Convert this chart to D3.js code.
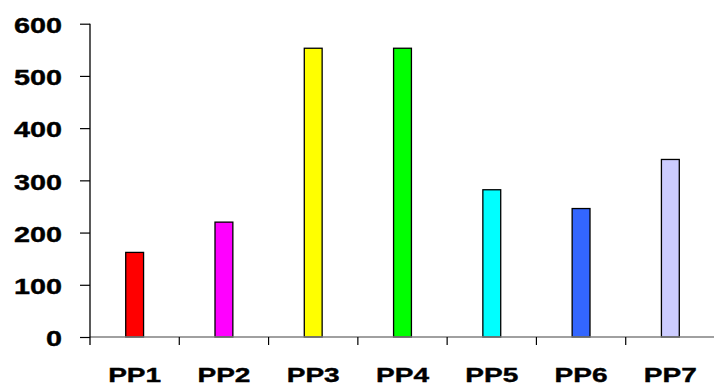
<!DOCTYPE html>
<html>
<head>
<meta charset="utf-8">
<script src="https://cdn.jsdelivr.net/npm/d3@7"></script>
<style>
html,body{margin:0;padding:0;background:#fff;}
svg{display:block;}
</style>
</head>
<body>
<svg id="chart" width="714" height="384"></svg>
<script>
const categories = ["PP1","PP2","PP3","PP4","PP5","PP6","PP7"];
const values = [162, 220, 553, 553, 282, 246, 340];
const colors = ["#FF0000","#FF00FF","#FFFF00","#00FF00","#00FFFF","#3366FF","#CCCCFF"];
const yTicks = [0,100,200,300,400,500,600];

(function(){
const svg = d3.select("#chart");
const mLeft = 90, mRight = 715, mTop = 23.7, mBottom = 337;
const font = "'Liberation Sans', Arial, sans-serif";

const x = d3.scaleBand().domain(categories).range([mLeft, mRight]).padding(0);
const y = d3.scaleLinear().domain([0, 600]).range([mBottom, mTop]);

const barW = x.bandwidth() * 0.2;

// bars
svg.append("g").selectAll("rect")
  .data(categories)
  .join("rect")
  .attr("x", (d) => x(d) + x.bandwidth()/2 - barW/2)
  .attr("y", (d,i) => y(values[i]))
  .attr("width", barW)
  .attr("height", (d,i) => y(0) - y(values[i]))
  .attr("fill", (d,i) => colors[i])
  .attr("stroke", "#000")
  .attr("stroke-width", 1.3);

// x axis (labels)
const xAxis = svg.append("g")
  .attr("transform", `translate(0,${mBottom})`)
  .call(d3.axisBottom(x).tickSize(0).tickPadding(0));
xAxis.attr("font-family", font).attr("font-size", 21);
xAxis.select(".domain").remove();
xAxis.selectAll("text")
  .attr("y", 44.5).attr("dy", null)
  .attr("text-anchor", "middle")
  .attr("font-weight", "bold")
  .attr("textLength", 53)
  .attr("lengthAdjust", "spacingAndGlyphs")
  .attr("fill", "#000")
  .attr("stroke", "#000").attr("stroke-width", 0.4);

// x axis line
svg.append("line")
  .attr("x1", mLeft).attr("x2", 714)
  .attr("y1", mBottom).attr("y2", mBottom)
  .attr("stroke", "#808080").attr("stroke-width", 1.3);

// x boundary ticks
svg.append("g").selectAll("line")
  .data(categories)
  .join("line")
  .attr("x1", (d) => x(d) + x.step())
  .attr("x2", (d) => x(d) + x.step())
  .attr("y1", mBottom)
  .attr("y2", mBottom + 8)
  .attr("stroke", "#000").attr("stroke-width", 1.2);

// y axis
const yAxis = svg.append("g")
  .attr("transform", `translate(${mLeft},0)`)
  .call(d3.axisLeft(y).tickValues(yTicks).tickSize(10).tickSizeOuter(0).tickPadding(18));
yAxis.attr("font-family", font).attr("font-size", 22);
yAxis.select(".domain").remove();
yAxis.selectAll(".tick line").attr("stroke", "#000").attr("stroke-width", 1.2);
yAxis.selectAll("text")
  .attr("dy", "0.4em")
  .attr("text-anchor", "end")
  .attr("font-weight", "bold")
  .attr("textLength", (d) => 16 * String(d).length)
  .attr("lengthAdjust", "spacingAndGlyphs")
  .attr("fill", "#000")
  .attr("stroke", "#000").attr("stroke-width", 0.4);

svg.append("line")
  .attr("x1", mLeft).attr("x2", mLeft)
  .attr("y1", mTop).attr("y2", mBottom + 8)
  .attr("stroke", "#000").attr("stroke-width", 1.3);
})();
</script>
</body>
</html>
